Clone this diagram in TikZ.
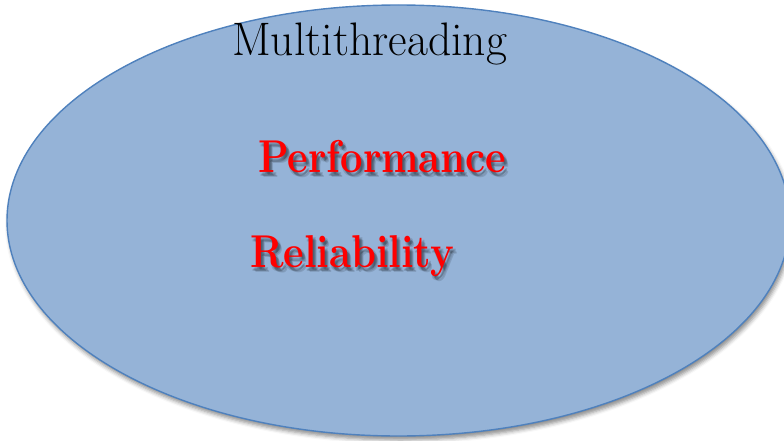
\documentclass[tikz,border=0pt]{standalone}
\usetikzlibrary{shapes.geometric,shadows.blur}
\definecolor{ovalfill}{RGB}{149,179,215}
\definecolor{ovalline}{RGB}{79,129,189}
\definecolor{keyred}{RGB}{255,0,0}
\tikzset{
  oval/.style={ellipse, draw=ovalline, line width=1.4pt, fill=ovalfill,
    inner sep=0pt, minimum width=783pt, minimum height=431pt,
    blur shadow={shadow xshift=2pt, shadow yshift=-4pt,
      shadow blur radius=4pt, shadow opacity=45}},
  title/.style={anchor=base west, inner sep=0pt, text=black,
    font=\fontsize{47}{47}\selectfont},
  keyword/.style={anchor=base west, inner sep=0pt, text=keyred,
    font=\fontsize{46}{46}\selectfont\bfseries},
  keyshade/.style={keyword, text=black, opacity=0.12}
}
% soft drop shadow behind a bold red word: a few faint offset copies
\newcommand{\wordshadow}[3]{%
  \foreach \dx/\dy in {2/3,3/4,4/5,3/2,1/4}{
    \node[keyshade] at (#1+\dx,#2+\dy) {\scalebox{0.87}[1]{#3}};
  }
}
\begin{document}
\begin{tikzpicture}[x=1pt,y=-1pt]
  \useasboundingbox (0,0) rectangle (784,441);
  \clip (0,0) rectangle (784,441);
  \node[oval] (oval) at (398.5,220.5) {};
  \node[title] (mt) at (232,56) {\scalebox{0.97}[1]{Multithreading}};
  \wordshadow{258}{172}{Performance}
  \node[keyword] (perf) at (258,172) {\scalebox{0.87}[1]{Performance}};
  \wordshadow{250}{267}{Reliability}
  \node[keyword] (rel) at (250,267) {\scalebox{0.87}[1]{Reliability}};
\end{tikzpicture}
\end{document}
